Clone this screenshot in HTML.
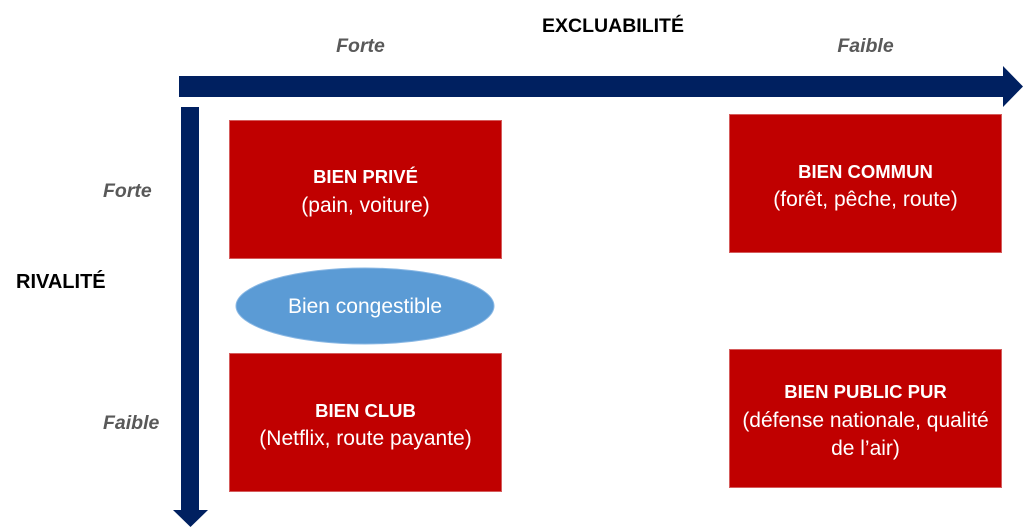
<!DOCTYPE html>
<html>
<head>
<meta charset="utf-8">
<style>
  html, body { margin: 0; padding: 0; background: #ffffff; }
  body { width: 1024px; height: 528px; overflow: hidden; }
  svg { display: block; }
  .t { font-family: "Liberation Sans", sans-serif; }
</style>
</head>
<body>
<svg width="1024" height="528" viewBox="0 0 1024 528" xmlns="http://www.w3.org/2000/svg">
  <!-- Horizontal arrow -->
  <rect x="179" y="76" width="825" height="21" fill="#002060"/>
  <polygon points="1003,66 1003,107 1023,86.5" fill="#002060"/>
  <!-- Vertical arrow -->
  <rect x="181" y="107" width="18" height="404" fill="#002060"/>
  <polygon points="173,510 208,510 190.5,527" fill="#002060"/>

  <!-- Boxes -->
  <rect x="229.5" y="120.5" width="272" height="138" fill="#C00000" stroke="#d55c5c" stroke-width="1"/>
  <rect x="229.5" y="353.5" width="272" height="138" fill="#C00000" stroke="#d55c5c" stroke-width="1"/>
  <rect x="729.5" y="114.5" width="272" height="138" fill="#C00000" stroke="#d55c5c" stroke-width="1"/>
  <rect x="729.5" y="349.5" width="272" height="138" fill="#C00000" stroke="#d55c5c" stroke-width="1"/>

  <!-- Ellipse -->
  <ellipse cx="365" cy="306" rx="129" ry="38" fill="#5B9BD5" stroke="#8ab8e4" stroke-width="1"/>

  <!-- Axis titles -->
  <text class="t" x="613" y="32" text-anchor="middle" font-size="19.5" font-weight="bold" fill="#000">EXCLUABILITÉ</text>
  <text class="t" x="16" y="288" font-size="20" font-weight="bold" fill="#000">RIVALITÉ</text>

  <!-- Axis level labels -->
  <text class="t" x="360.5" y="52" text-anchor="middle" font-size="19.5" font-weight="bold" font-style="italic" fill="#595959">Forte</text>
  <text class="t" x="865.5" y="52" text-anchor="middle" font-size="19.5" font-weight="bold" font-style="italic" fill="#595959">Faible</text>
  <text class="t" x="103" y="197" font-size="19.5" font-weight="bold" font-style="italic" fill="#595959">Forte</text>
  <text class="t" x="103" y="429" font-size="19.5" font-weight="bold" font-style="italic" fill="#595959">Faible</text>

  <!-- Box texts -->
  <g class="t" fill="#ffffff" text-anchor="middle">
    <text x="365.5" y="183" font-size="18.5" font-weight="bold">BIEN PRIVÉ</text>
    <text x="365.5" y="212" font-size="21">(pain, voiture)</text>

    <text x="365.5" y="417" font-size="18.5" font-weight="bold">BIEN CLUB</text>
    <text x="365.5" y="445" font-size="21">(Netflix, route payante)</text>

    <text x="865.5" y="178" font-size="18.5" font-weight="bold">BIEN COMMUN</text>
    <text x="865.5" y="206" font-size="21">(forêt, pêche, route)</text>

    <text x="865.5" y="398" font-size="18.5" font-weight="bold">BIEN PUBLIC PUR</text>
    <text x="865.5" y="427" font-size="21">(défense nationale, qualité</text>
    <text x="865.5" y="455" font-size="21">de l’air)</text>

    <text x="365" y="313" font-size="21">Bien congestible</text>
  </g>
</svg>
</body>
</html>
